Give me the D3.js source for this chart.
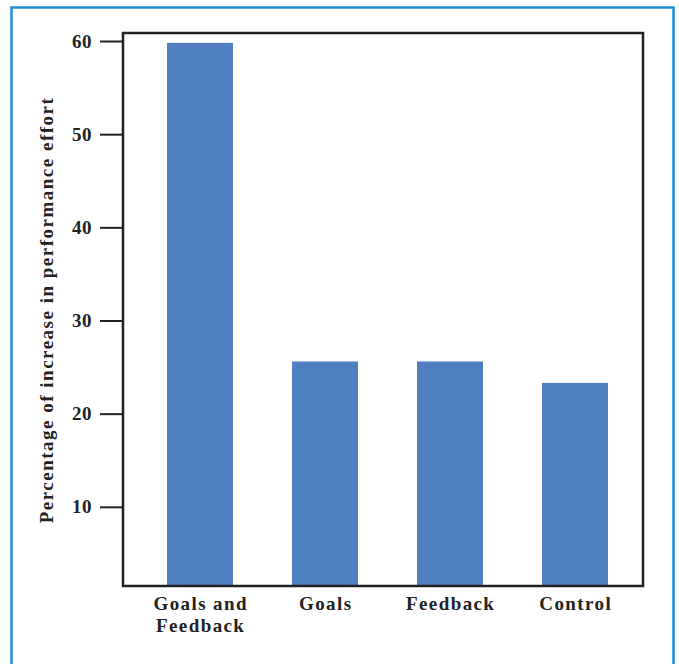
<!DOCTYPE html>
<html><head><meta charset="utf-8">
<script src="https://cdn.jsdelivr.net/npm/d3@7"></script>
<style>body{margin:0;background:#fff}svg{display:block}</style>
</head><body>
<script>
const categories = [["Goals and","Feedback"],["Goals"],["Feedback"],["Control"]];
const values = [59.8, 25.6, 25.6, 23.3];
const yTicks = [10,20,30,40,50,60];
const yLabel = "Percentage of increase in performance effort";

const W=679,H=664;
const svg=d3.select("body").append("svg").attr("width",W).attr("height",H);
// outer blue frame
svg.append("rect").attr("x",11.5).attr("y",7.5).attr("width",662).attr("height",700)
  .attr("fill","none").attr("stroke","#1b8fd6").attr("stroke-width",2.5);

const L=123,R=643,T=33,B=586;
const y=d3.scaleLinear().domain([1.5,60.86]).range([B,T]);
const x=d3.scaleBand().domain(d3.range(categories.length)).range([L,R])
  .paddingInner(0.472).paddingOuter(0.316).align(0.557);

const font="'Liberation Serif','Times New Roman',serif";

svg.append("g").selectAll("rect").data(values).join("rect")
  .attr("x",(d,i)=>x(i)).attr("width",x.bandwidth())
  .attr("y",d=>y(d)).attr("height",d=>B-y(d)).attr("fill","#5080c2");

// frame
svg.append("rect").attr("x",L).attr("y",T).attr("width",R-L).attr("height",B-T)
  .attr("fill","none").attr("stroke","#222").attr("stroke-width",2.5);

const ax=svg.append("g").attr("transform",`translate(${L},0)`)
  .call(d3.axisLeft(y).tickValues(yTicks).tickSize(23).tickPadding(8));
ax.select(".domain").remove();
ax.selectAll(".tick line").attr("stroke","#222").attr("stroke-width",2);
ax.selectAll(".tick text").attr("font-family",font).attr("font-weight","bold")
  .attr("font-size",19).attr("fill","#222").attr("letter-spacing","0.5px");

const lab=svg.append("g").selectAll("text").data(categories).join("text")
  .attr("font-family",font).attr("font-weight","bold").attr("font-size",19)
  .attr("fill","#222").attr("text-anchor","middle").attr("letter-spacing","1.4px");
lab.each(function(d,i){
  const t=d3.select(this);
  d.forEach((s,j)=>t.append("tspan").attr("x",x(i)+x.bandwidth()/2+0.7).attr("y",610+j*22).text(s));
});

svg.append("text").attr("transform","translate(53,310) rotate(-90)")
  .attr("text-anchor","middle").attr("font-family",font).attr("font-weight","bold")
  .attr("font-size",19).attr("fill","#222").attr("letter-spacing","1.5px").text(yLabel);
</script>
</body></html>
